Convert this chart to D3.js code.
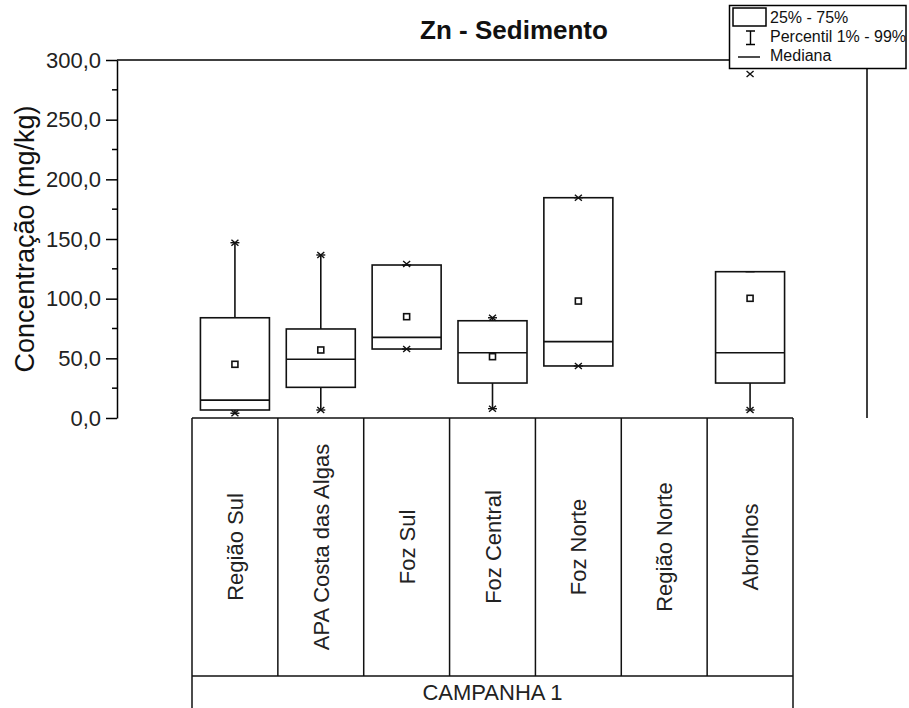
<!DOCTYPE html>
<meta charset="utf-8">
<style>
    body { margin: 0; background: #fff; }
    svg { display: block; font-family: "Liberation Sans", Arial, sans-serif; }
    .frame line, .frame path { stroke: #000; stroke-width: 1.5px; fill: none; }
    .boxes rect, .boxes line { stroke: #111; stroke-width: 1.6px; fill: none; }
    .marks path { stroke: #111; stroke-width: 1.4px; fill: none; }
    .table line { stroke: #111; stroke-width: 1.5px; }
</style>
<svg width="909" height="708"></svg>
<script src="https://d3js.org/d3.v7.min.js"></script>
<script>
    // values (mg/kg)
    var categories = ["Região Sul", "APA Costa das Algas", "Foz Sul", "Foz Central", "Foz Norte", "Região Norte", "Abrolhos"];
    var q1     = [6.7, 25.7, 57.8, 29.3, 43.6, null, 29.3];
    var median = [15.0, 49.2, 67.6, 54.7, 64.0, null, 54.7];
    var q3     = [84.0, 74.6, 128.2, 81.5, 184.6, null, 122.6];
    var mean   = [45.0, 57.0, 84.9, 51.4, 98.0, null, 100.3];
    var pLow   = [4.0, 6.7, 57.8, 7.8, 43.6, null, 6.7];
    var pHigh  = [146.9, 136.6, 128.2, 84.0, 184.6, null, 122.6];
    var minVal = [4.0, 6.7, 57.8, 7.8, 43.6, null, 6.7];
    var maxVal = [146.9, 136.6, 129.0, 84.0, 184.6, null, 288.3];
    var yTicks = [0, 50, 100, 150, 200, 250, 300];
    var yMinorTicks = [25, 75, 125, 175, 225, 275];
    var campaign = "CAMPANHA 1";

    var svg = d3.select("svg");

    var x = d3.scaleBand().domain(categories).range([192, 793]).padding(0);
    var y = d3.scaleLinear().domain([0, 300]).range([418, 60]);
    var fmt = d3.formatLocale({decimal: ",", thousands: ".", grouping: [3], currency: ["R$", ""]}).format(".1f");

    var rows = categories.map(function(c, i) {
        return {cat: c, q1: q1[i], med: median[i], q3: q3[i], mean: mean[i],
                lo: pLow[i], hi: pHigh[i], min: minVal[i], max: maxVal[i]};
    }).filter(function(d) { return d.q1 !== null; });

    // frame: top and right lines (legend sits on the corner)
    var frame = svg.append("g").attr("class", "frame");
    frame.append("line").attr("x1", 117).attr("x2", 867).attr("y1", y(300)).attr("y2", y(300));
    frame.append("line").attr("x1", 867).attr("x2", 867).attr("y1", y(300)).attr("y2", y(0));

    // y axis
    var yAxis = svg.append("g").attr("transform", "translate(117,0)")
        .call(d3.axisLeft(y).tickValues(yTicks).tickFormat(fmt).tickSize(11).tickSizeOuter(0));
    yAxis.select(".domain").attr("stroke", "#000").attr("stroke-width", 1.5);
    yAxis.selectAll(".tick line").attr("stroke", "#000").attr("stroke-width", 1.5);
    yAxis.selectAll(".tick text").attr("x", -16).attr("fill", "#222")
        .style("font-size", "22px").style("font-family", "'Liberation Sans', Arial, sans-serif");
    svg.append("g").selectAll("line").data(yMinorTicks).enter().append("line")
        .attr("x1", 112).attr("x2", 117)
        .attr("y1", function(d) { return y(d); }).attr("y2", function(d) { return y(d); })
        .attr("stroke", "#000").attr("stroke-width", 1.5);

    svg.append("text")
        .attr("transform", "translate(34," + 239 + ") rotate(-90)")
        .attr("text-anchor", "middle")
        .style("font-size", "27px").attr("fill", "#111")
        .text("Concentração (mg/kg)");

    svg.append("text").attr("x", 514).attr("y", 39).attr("text-anchor", "middle")
        .style("font-size", "26px").style("font-weight", "bold").attr("fill", "#111")
        .text("Zn - Sedimento");

    // boxes
    var bw = 69;
    var boxes = svg.append("g").attr("class", "boxes");
    var g = boxes.selectAll("g").data(rows).enter().append("g")
        .attr("transform", function(d) { return "translate(" + (x(d.cat) + x.bandwidth() / 2) + ",0)"; });

    g.append("line").attr("x1", 0).attr("x2", 0)
        .attr("y1", function(d) { return y(d.q3); }).attr("y2", function(d) { return y(d.hi); });
    g.append("line").attr("x1", 0).attr("x2", 0)
        .attr("y1", function(d) { return y(d.q1); }).attr("y2", function(d) { return y(d.lo); });
    g.append("rect").attr("x", -bw / 2).attr("width", bw)
        .attr("y", function(d) { return y(d.q3); })
        .attr("height", function(d) { return y(d.q1) - y(d.q3); });
    g.append("line").attr("x1", -bw / 2).attr("x2", bw / 2)
        .attr("y1", function(d) { return y(d.med); }).attr("y2", function(d) { return y(d.med); });
    g.append("rect").attr("x", -3).attr("width", 6).attr("height", 6)
        .attr("y", function(d) { return y(d.mean) - 3; });

    // markers: dash at whisker ends, x at extremes
    var marks = g.append("g").attr("class", "marks");
    function dash(v) { var yy = y(v); return "M-4.5," + yy + "H4.5"; }
    function cross(v) { var yy = y(v); return "M-3.5," + (yy - 3) + "L3.5," + (yy + 3) + "M-3.5," + (yy + 3) + "L3.5," + (yy - 3); }
    marks.append("path").attr("d", function(d) { return dash(d.hi); });
    marks.append("path").attr("d", function(d) { return dash(d.lo); });
    marks.append("path").attr("d", function(d) { return cross(d.max); });
    marks.append("path").attr("d", function(d) { return cross(d.min); });

    // category table
    var table = svg.append("g").attr("class", "table");
    table.append("line").attr("x1", 192).attr("x2", 793).attr("y1", 418).attr("y2", 418);
    table.append("line").attr("x1", 192).attr("x2", 793).attr("y1", 676).attr("y2", 676);
    table.selectAll(".div").data(categories.slice(1)).enter().append("line")
        .attr("x1", function(d) { return x(d); }).attr("x2", function(d) { return x(d); })
        .attr("y1", 418).attr("y2", 676);
    table.append("line").attr("x1", 192).attr("x2", 192).attr("y1", 418).attr("y2", 708);
    table.append("line").attr("x1", 793).attr("x2", 793).attr("y1", 418).attr("y2", 708);

    svg.append("g").selectAll("text").data(categories).enter().append("text")
        .attr("transform", function(d) { return "translate(" + (x(d) + x.bandwidth() / 2 + 8) + ",547) rotate(-90)"; })
        .attr("text-anchor", "middle")
        .style("font-size", "22px").attr("fill", "#222")
        .text(function(d) { return d; });

    svg.append("text").attr("x", 492.5).attr("y", 700).attr("text-anchor", "middle")
        .style("font-size", "22px").attr("fill", "#222").text(campaign);

    // legend
    var leg = svg.append("g");
    leg.append("rect").attr("x", 729.5).attr("y", 5.5).attr("width", 176.5).attr("height", 63)
        .attr("fill", "#fff").attr("stroke", "#000").attr("stroke-width", 1.5);
    leg.append("rect").attr("x", 733).attr("y", 8).attr("width", 33).attr("height", 18)
        .attr("fill", "none").attr("stroke", "#000").attr("stroke-width", 1.5);
    leg.append("path").attr("d", "M746,31H755M750.5,31V44.5M746,44.5H755")
        .attr("fill", "none").attr("stroke", "#000").attr("stroke-width", 1.4);
    leg.append("line").attr("x1", 738).attr("x2", 760).attr("y1", 57).attr("y2", 57)
        .attr("stroke", "#000").attr("stroke-width", 1.4);
    leg.selectAll("text").data(["25% - 75%", "Percentil 1% - 99%", "Mediana"]).enter().append("text")
        .attr("x", 770).attr("y", function(d, i) { return 23 + i * 19; })
        .style("font-size", "16px").attr("fill", "#111")
        .text(function(d) { return d; });
</script>
